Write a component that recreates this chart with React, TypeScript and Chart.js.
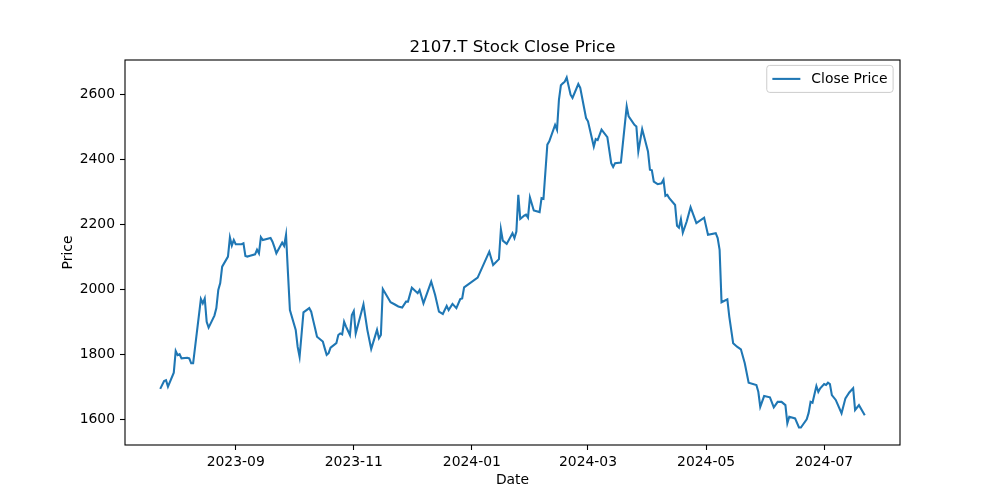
import React, { useEffect, useRef } from "react";
import { Chart, registerables } from "chart.js";

Chart.register(...registerables);

const chartTitle = "2107.T Stock Close Price";
const seriesLabel = "Close Price";
const xAxisLabel = "Date";
const yAxisLabel = "Price";

const dates = [
  "2023-07-24", "2023-07-26", "2023-07-27", "2023-07-28", "2023-07-31",
  "2023-08-01", "2023-08-02", "2023-08-03", "2023-08-04", "2023-08-07",
  "2023-08-08", "2023-08-09", "2023-08-10", "2023-08-14", "2023-08-15",
  "2023-08-16", "2023-08-17", "2023-08-18", "2023-08-21", "2023-08-22",
  "2023-08-23", "2023-08-24", "2023-08-25", "2023-08-28", "2023-08-29",
  "2023-08-30", "2023-08-31", "2023-09-01", "2023-09-04", "2023-09-05",
  "2023-09-06", "2023-09-07", "2023-09-08", "2023-09-11", "2023-09-12",
  "2023-09-13", "2023-09-14", "2023-09-15", "2023-09-19", "2023-09-20",
  "2023-09-21", "2023-09-22", "2023-09-25", "2023-09-26", "2023-09-27",
  "2023-09-28", "2023-09-29", "2023-10-02", "2023-10-03", "2023-10-04",
  "2023-10-05", "2023-10-06", "2023-10-09", "2023-10-10", "2023-10-11",
  "2023-10-12", "2023-10-13", "2023-10-16", "2023-10-17", "2023-10-18",
  "2023-10-19", "2023-10-20", "2023-10-23", "2023-10-24", "2023-10-25",
  "2023-10-26", "2023-10-27", "2023-10-28", "2023-10-30", "2023-10-31",
  "2023-11-01", "2023-11-02", "2023-11-06", "2023-11-08", "2023-11-10",
  "2023-11-13", "2023-11-14", "2023-11-15", "2023-11-16", "2023-11-20",
  "2023-11-22", "2023-11-24", "2023-11-26", "2023-11-28", "2023-11-29",
  "2023-12-01", "2023-12-04", "2023-12-05", "2023-12-07", "2023-12-11",
  "2023-12-13", "2023-12-15", "2023-12-17", "2023-12-19", "2023-12-20",
  "2023-12-22", "2023-12-24", "2023-12-26", "2023-12-27", "2023-12-28",
  "2024-01-04", "2024-01-10", "2024-01-12", "2024-01-15", "2024-01-16",
  "2024-01-17", "2024-01-19", "2024-01-22", "2024-01-23", "2024-01-24",
  "2024-01-25", "2024-01-26", "2024-01-28", "2024-01-29", "2024-01-30",
  "2024-01-31", "2024-02-02", "2024-02-05", "2024-02-06", "2024-02-07",
  "2024-02-09", "2024-02-10", "2024-02-13", "2024-02-14", "2024-02-15",
  "2024-02-16", "2024-02-17", "2024-02-18", "2024-02-19", "2024-02-21",
  "2024-02-22", "2024-02-25", "2024-02-26", "2024-02-28", "2024-02-29",
  "2024-03-01", "2024-03-04", "2024-03-05", "2024-03-06", "2024-03-08",
  "2024-03-11", "2024-03-13", "2024-03-14", "2024-03-15", "2024-03-18",
  "2024-03-21", "2024-03-22", "2024-03-25", "2024-03-26", "2024-03-27",
  "2024-03-29", "2024-04-01", "2024-04-02", "2024-04-03", "2024-04-04",
  "2024-04-06", "2024-04-08", "2024-04-09", "2024-04-10", "2024-04-11",
  "2024-04-12", "2024-04-15", "2024-04-16", "2024-04-17", "2024-04-18",
  "2024-04-19", "2024-04-21", "2024-04-23", "2024-04-26", "2024-04-30",
  "2024-05-02", "2024-05-06", "2024-05-07", "2024-05-08", "2024-05-09",
  "2024-05-12", "2024-05-13", "2024-05-15", "2024-05-17", "2024-05-19",
  "2024-05-21", "2024-05-23", "2024-05-27", "2024-05-28", "2024-05-29",
  "2024-05-31", "2024-06-03", "2024-06-05", "2024-06-07", "2024-06-09",
  "2024-06-11", "2024-06-12", "2024-06-13", "2024-06-16", "2024-06-18",
  "2024-06-19", "2024-06-22", "2024-06-23", "2024-06-24", "2024-06-25",
  "2024-06-27", "2024-06-28", "2024-06-29", "2024-07-01", "2024-07-02",
  "2024-07-03", "2024-07-04", "2024-07-05", "2024-07-07", "2024-07-10",
  "2024-07-12", "2024-07-14", "2024-07-16", "2024-07-17", "2024-07-19",
  "2024-07-22",
];

const closePrices = [
  1693, 1717, 1720, 1700, 1743,
  1810, 1797, 1800, 1787, 1789,
  1787, 1772, 1772, 1970, 1957,
  1972, 1900, 1882, 1919, 1942,
  1998, 2019, 2070, 2101, 2160,
  2135, 2152, 2139, 2139, 2142,
  2103, 2101, 2103, 2108, 2122,
  2111, 2161, 2152, 2158, 2147,
  2130, 2111, 2144, 2134, 2168,
  2050, 1936, 1875, 1823, 1792,
  1860, 1929, 1942, 1931, 1905,
  1880, 1854, 1839, 1818, 1798,
  1803, 1820, 1834, 1859, 1864,
  1861, 1900, 1885, 1859, 1921,
  1933, 1864, 1954, 1875, 1816,
  1875, 1849, 1859, 2001, 1960,
  1954, 1947, 1944, 1962, 1962,
  2005, 1988, 1998, 1957, 2024,
  1983, 1931, 1924, 1949, 1936,
  1955, 1942, 1970, 1972, 2006,
  2036, 2116, 2075, 2093, 2185,
  2150, 2140, 2173, 2158, 2178,
  2291, 2217, 2227, 2230, 2221,
  2283, 2243, 2238, 2281, 2279,
  2446, 2456, 2507, 2492, 2585,
  2629, 2635, 2640, 2653, 2600,
  2590, 2633, 2621, 2559, 2528,
  2518, 2440, 2463, 2460, 2492,
  2469, 2389, 2377, 2389, 2391,
  2564, 2533, 2507, 2502, 2425,
  2494, 2425, 2369, 2367, 2332,
  2324, 2327, 2338, 2288, 2291,
  2281, 2260, 2196, 2190, 2216,
  2175, 2209, 2253, 2204, 2221,
  2168, 2173, 2158, 2122, 1960,
  1969, 1916, 1834, 1823, 1815,
  1772, 1712, 1705, 1684, 1638,
  1671, 1667, 1636, 1653, 1653,
  1643, 1587, 1607, 1602, 1574,
  1574, 1599, 1619, 1653, 1650,
  1702, 1684, 1695, 1708, 1705,
  1712, 1708, 1674, 1659, 1618,
  1664, 1682, 1695, 1628, 1643,
  1612,
];

const yTickValues = [1600, 1800, 2000, 2200, 2400, 2600];
const xTickDates = ["2023-09-01", "2023-11-01", "2024-01-01", "2024-03-01", "2024-05-01", "2024-07-01"];

const LINE_COLOR = "#1f77b4";
const FONT_FAMILY = '"DejaVu Sans", "Liberation Sans", sans-serif';
const TICK_FONT_SIZE = 13.9;
const TITLE_FONT_SIZE = 16.67;

function toMs(s: string): number {
  const [y, m, d] = s.split("-").map(Number);
  return Date.UTC(y, m - 1, d);
}

function formatMonth(v: number): string {
  const dt = new Date(v);
  const m = dt.getUTCMonth() + 1;
  return `${dt.getUTCFullYear()}-${m < 10 ? "0" + m : m}`;
}

const framePlugin = {
  id: "mplFrame",
  afterDatasetsDraw(chart: any) {
    const { ctx, chartArea } = chart;
    ctx.save();
    ctx.strokeStyle = "#000";
    ctx.lineWidth = 1.1;
    ctx.strokeRect(chartArea.left, chartArea.top, chartArea.right - chartArea.left, chartArea.bottom - chartArea.top);
    ctx.restore();
  },
};

const titleLegendPlugin = {
  id: "mplTitleLegend",
  afterDraw(chart: any) {
    const { ctx, chartArea } = chart;
    ctx.save();
    ctx.fillStyle = "#000";
    ctx.font = `${TITLE_FONT_SIZE}px ${FONT_FAMILY}`;
    ctx.textAlign = "center";
    ctx.textBaseline = "alphabetic";
    ctx.fillText(chartTitle, (chartArea.left + chartArea.right) / 2, chartArea.top - 8.3);

    const ds = chart.data.datasets[0];
    ctx.font = `${TICK_FONT_SIZE}px ${FONT_FAMILY}`;
    const textW = ctx.measureText(ds.label).width;
    const pad = 6.9;
    const boxRight = chartArea.right - pad;
    const boxTop = chartArea.top + pad - 1.5;
    const boxH = 27;
    const handle = 28;
    const boxW = 5.6 + handle + 11 + textW + 5.6;
    const boxLeft = boxRight - boxW;
    ctx.beginPath();
    if ((ctx as any).roundRect) {
      (ctx as any).roundRect(boxLeft, boxTop, boxW, boxH, 3);
    } else {
      ctx.rect(boxLeft, boxTop, boxW, boxH);
    }
    ctx.fillStyle = "rgba(255,255,255,0.8)";
    ctx.fill();
    ctx.strokeStyle = "#cccccc";
    ctx.lineWidth = 1;
    ctx.stroke();
    const cy = boxTop + boxH / 2;
    ctx.beginPath();
    ctx.moveTo(boxLeft + 5.6, cy);
    ctx.lineTo(boxLeft + 5.6 + handle, cy);
    ctx.strokeStyle = ds.borderColor;
    ctx.lineWidth = 2.08;
    ctx.stroke();
    ctx.fillStyle = "#000";
    ctx.textAlign = "left";
    ctx.textBaseline = "middle";
    ctx.fillText(ds.label, boxLeft + 5.6 + handle + 11, cy);
    ctx.restore();
  },
};

export default function App() {
  const canvasRef = useRef<HTMLCanvasElement | null>(null);

  useEffect(() => {
    if (!canvasRef.current) return;
    const xs = dates.map(toMs);
    const points = xs.map((x, i) => ({ x, y: closePrices[i] }));
    const xMinD = Math.min(...xs);
    const xMaxD = Math.max(...xs);
    const xSpan = xMaxD - xMinD;
    const yMinD = Math.min(...closePrices);
    const yMaxD = Math.max(...closePrices);
    const ySpan = yMaxD - yMinD;
    const xTickMs = xTickDates.map(toMs);

    const tickFont = { family: FONT_FAMILY, size: TICK_FONT_SIZE };

    const chart = new Chart(canvasRef.current, {
      type: "line",
      data: {
        datasets: [
          {
            label: seriesLabel,
            data: points,
            borderColor: LINE_COLOR,
            backgroundColor: LINE_COLOR,
            borderWidth: 2.08,
            pointRadius: 0,
            tension: 0,
            fill: false,
          },
        ],
      },
      options: {
        responsive: false,
        animation: false,
        devicePixelRatio: 1,
        layout: { padding: { top: 60, right: 100, bottom: 0, left: 0 } },
        plugins: {
          legend: { display: false },
          title: { display: false },
          tooltip: { enabled: false },
        },
        scales: {
          x: {
            type: "linear",
            min: xMinD - 0.05 * xSpan,
            max: xMaxD + 0.05 * xSpan,
            offset: false,
            afterBuildTicks: (scale: any) => {
              scale.ticks = xTickMs.map((v) => ({ value: v }));
            },
            afterFit: (scale: any) => {
              scale.height = 55;
            },
            ticks: {
              autoSkip: false,
              maxRotation: 0,
              minRotation: 0,
              padding: 4,
              color: "#000",
              font: tickFont,
              callback: (v: any) => formatMonth(Number(v)),
            },
            grid: {
              display: true,
              drawOnChartArea: false,
              drawTicks: true,
              tickLength: 5,
              tickColor: "#000",
              tickWidth: 1.1,
            },
            border: { display: false },
            title: {
              display: true,
              text: xAxisLabel,
              color: "#000",
              font: tickFont,
              padding: { top: 0, bottom: 11 },
            },
          },
          y: {
            type: "linear",
            min: yMinD - 0.05 * ySpan,
            max: yMaxD + 0.05 * ySpan,
            afterBuildTicks: (scale: any) => {
              scale.ticks = yTickValues.map((v) => ({ value: v }));
            },
            afterFit: (scale: any) => {
              scale.width = 125;
            },
            ticks: {
              autoSkip: false,
              padding: 5,
              color: "#000",
              font: tickFont,
              callback: (v: any) => String(v),
            },
            grid: {
              display: true,
              drawOnChartArea: false,
              drawTicks: true,
              tickLength: 5,
              tickColor: "#000",
              tickWidth: 1.1,
            },
            border: { display: false },
            title: {
              display: true,
              text: yAxisLabel,
              color: "#000",
              font: tickFont,
              padding: { top: 59.7, bottom: 0 },
            },
          },
        },
      },
      plugins: [framePlugin, titleLegendPlugin],
    } as any);

    return () => {
      chart.destroy();
    };
  }, []);

  return (
    <div style={{ position: "fixed", left: 0, top: 0, width: 1000, height: 500, background: "#fff" }}>
      <canvas ref={canvasRef} width={1000} height={500} style={{ display: "block", width: 1000, height: 500 }} />
    </div>
  );
}
